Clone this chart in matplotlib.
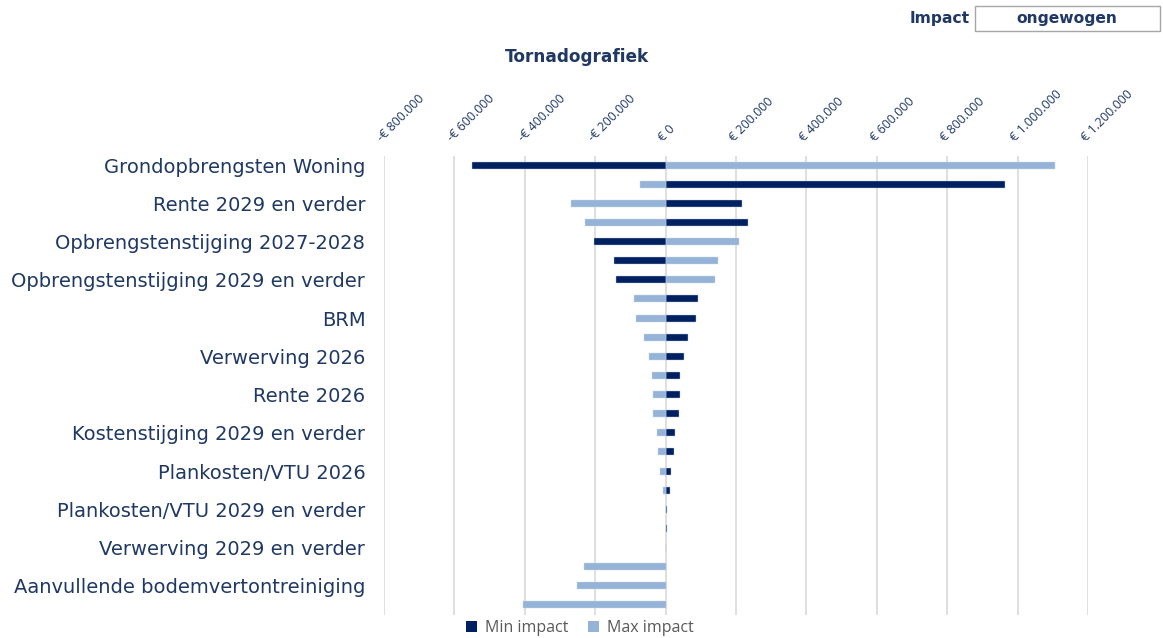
# ================================================================
# Tornadografiek - recreated with matplotlib
# ================================================================
import matplotlib
matplotlib.use('Agg')
import matplotlib.pyplot as plt
from matplotlib.patches import Patch, Rectangle
import numpy as np


# ================================================================
# Data (rows from top to bottom)
# ================================================================
# Only every other category name is shown on the axis (as in Excel)
category_labels = [
    'Grondopbrengsten Woning',
    'Rente 2029 en verder',
    'Opbrengstenstijging 2027-2028',
    'Opbrengstenstijging 2029 en verder',
    'BRM',
    'Verwerving 2026',
    'Rente 2026',
    'Kostenstijging 2029 en verder',
    'Plankosten/VTU 2026',
    'Plankosten/VTU 2029 en verder',
    'Verwerving 2029 en verder',
    'Aanvullende bodemvertontreiniging',
]

min_impact = [-550000, 965000, 218000, 235000, -202000, -146000, -140000, 93000,
              86000, 65000, 52000, 41000, 41000, 37000, 28000, 23000,
              16500, 13500, 5000, 4000, 0, 0, 0, 0]

max_impact = [1107000, -73000, -268000, -230000, 208000, 148000, 141000, -90000,
              -84000, -60000, -46000, -38000, -35000, -35000, -24000, -21000,
              -15000, -7000, 0, 0, 0, -233000, -251000, -404000]

x_ticks = [-800000, -600000, -400000, -200000, 0, 200000, 400000,
           600000, 800000, 1000000, 1200000]
x_tick_labels = ['-€ 800.000', '-€ 600.000', '-€ 400.000', '-€ 200.000', '€ 0',
                 '€ 200.000', '€ 400.000', '€ 600.000', '€ 800.000',
                 '€ 1.000.000', '€ 1.200.000']


# ================================================================
# Style
# ================================================================
navy = '#002060'
light = '#95B3D7'
text_navy = '#1F3864'
grid_grey = '#D9D9D9'


# ================================================================
# Plot
# ================================================================
fig = plt.figure(figsize=(11.63, 6.38), dpi=100)
ax = fig.add_axes([384 / 1163, 1 - 614.5 / 638, 704 / 1163, 459 / 638])

rows = np.arange(len(min_impact))
bar_h = 0.37

ax.barh(rows, min_impact, height=bar_h, color=navy,
        edgecolor='#B4C6E7', linewidth=0.3, zorder=3)
ax.barh(rows, max_impact, height=bar_h, color=light,
        edgecolor='#C9D8EC', linewidth=0.3, zorder=3)

ax.set_xlim(-800000, 1200000)
ax.set_ylim(len(rows) - 0.5, -0.5)

# x axis on top, rotated euro labels
ax.xaxis.tick_top()
ax.set_xticks(x_ticks)
ax.set_xticklabels(x_tick_labels, rotation=45, ha='left', va='bottom',
                   rotation_mode='anchor', fontsize=9, color=text_navy,
                   family='Open Sans')
ax.tick_params(axis='x', length=0, pad=8)

# y labels on every second row
ax.set_yticks(rows[::2])
ax.set_yticklabels(category_labels, fontsize=14, color=text_navy,
                   family='DejaVu Sans')
ax.tick_params(axis='y', length=0, pad=13.5)

ax.grid(axis='x', color=grid_grey, linewidth=1.2, zorder=0)
for s in ax.spines.values():
    s.set_visible(False)

# Title
fig.text(577 / 1163, 1 - 57 / 638, 'Tornadografiek', ha='center', va='center',
         fontsize=12.2, fontweight='bold', color=text_navy)

# Impact selector (top right)
fig.text(970 / 1163, 1 - 19 / 638, 'Impact', ha='right', va='center',
         fontsize=11.2, fontweight='bold', color=text_navy)
fig.patches.append(Rectangle((975 / 1163, 1 - 31 / 638), 185 / 1163, 25 / 638,
                             transform=fig.transFigure, facecolor='white',
                             edgecolor='#A6A6A6', linewidth=1))
fig.text(1067 / 1163, 1 - 19 / 638, 'ongewogen', ha='center', va='center',
         fontsize=11.2, fontweight='bold', color=text_navy)

# Legend
handles = [Patch(facecolor=navy, label='Min impact'),
           Patch(facecolor=light, label='Max impact')]
fig.legend(handles=handles, loc='center', bbox_to_anchor=(580 / 1163, 1 - 628 / 638),
           ncol=2, frameon=False, prop={'family': 'Open Sans', 'size': 11.5},
           labelcolor='#595959', handlelength=0.7, handleheight=0.7,
           handletextpad=0.5, columnspacing=1.2)

plt.savefig('out.png', dpi=100)
